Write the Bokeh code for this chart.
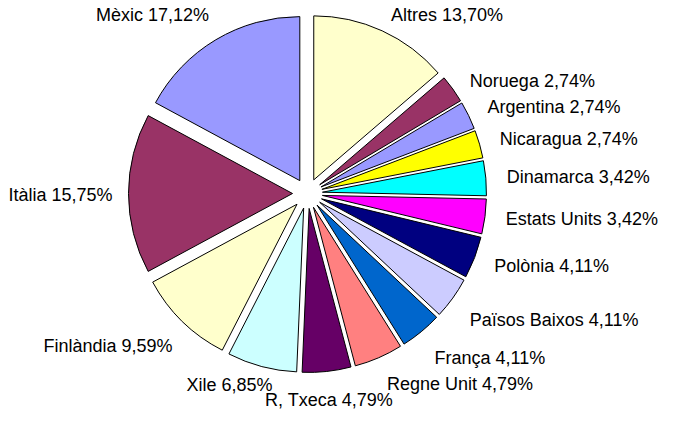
import math
from bokeh.plotting import figure
from bokeh.models import Range1d, ColumnDataSource
from bokeh.core.properties import value
from bokeh.embed import file_html
from bokeh.resources import INLINE

# ---- data ----
countries = ["Altres", "Noruega", "Argentina", "Nicaragua", "Dinamarca",
             "Estats Units", "Polònia", "Països Baixos", "França", "Regne Unit",
             "R. Txeca", "Xile", "Finlàndia", "Itàlia", "Mèxic"]
shares = [13.70, 2.74, 2.74, 2.74, 3.42, 3.42, 4.11, 4.11, 4.11, 4.79,
          4.79, 6.85, 9.59, 15.75, 17.12]
colors = ["#FFFFCC", "#993366", "#9999FF", "#FFFF00", "#00FFFF", "#FF00FF",
          "#000080", "#CCCCFF", "#0066CC", "#FF8080", "#660066", "#CCFFFF",
          "#FFFFCC", "#993366", "#9999FF"]

# ---- layout (pixels) ----
W, H = 658, 411
SCREEN_H = 427
TOP = 6                            # reference row shown at the top of the figure
CX, CY = 307, SCREEN_H - 199      # pie centre (y up)
RADIUS = 164
EXPLODE = 15
LABEL_R = 200
# small label nudges (dx, dy screen px, dy positive = down)
label_nudge = [(0, 3), (0, 4), (0, 1), (0, 1), (0, 1), (0, 0), (0, 1), (0, 10),
               (0, 10), (0, 7), (0, 8), (16, -2), (5, 10), (5, 1), (4, -7)]

total = sum(shares)
xs, ys, starts, ends = [], [], [], []
lx, ly, ltxt, lalign = [], [], [], []
cum = 0.0
for name, s, (ndx, ndy) in zip(countries, shares, label_nudge):
    c0 = cum / total
    cum += s
    c1 = cum / total
    a0 = math.pi / 2 - 2 * math.pi * c0
    a1 = math.pi / 2 - 2 * math.pi * c1
    mid = (a0 + a1) / 2
    xs.append(CX + EXPLODE * math.cos(mid))
    ys.append(CY + EXPLODE * math.sin(mid))
    starts.append(a0)
    ends.append(a1)
    px = CX + LABEL_R * math.cos(mid) + ndx
    py = CY + LABEL_R * math.sin(mid) - ndy
    lx.append(px)
    ly.append(py)
    ltxt.append(f"{name} {s:.2f}%".replace(".", ","))
    c = math.cos(mid)
    lalign.append("left" if c > 0.2 else ("right" if c < -0.2 else "center"))

p = figure(width=W, height=H, output_backend="svg", toolbar_location=None,
           x_range=Range1d(0, W),
           y_range=Range1d(SCREEN_H - TOP - H, SCREEN_H - TOP),
           min_border=0)
p.xaxis.visible = False
p.yaxis.visible = False
p.grid.visible = False
p.outline_line_color = None
p.background_fill_color = "white"
p.border_fill_color = "white"

src = ColumnDataSource(dict(x=xs, y=ys, start=starts, end=ends, color=colors))
p.wedge(x="x", y="y", radius=RADIUS, start_angle="start", end_angle="end",
        direction="clock", fill_color="color", line_color="black",
        line_width=1, source=src)

lsrc = ColumnDataSource(dict(x=lx, y=ly, text=ltxt, align=lalign))
p.text(x="x", y="y", text="text", text_align="align", text_baseline="middle",
       text_font=value("Liberation Sans"), text_font_size="18px",
       text_color="black", source=lsrc)

open("out.html", "w").write(file_html(p, INLINE))
